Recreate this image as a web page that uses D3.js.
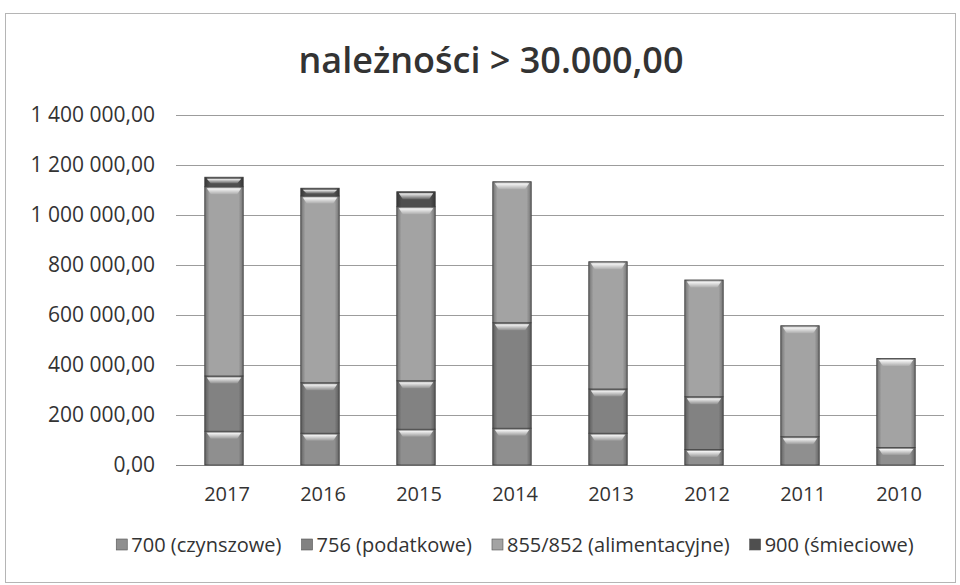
<!DOCTYPE html>
<meta charset="utf-8">
<html>
<head>
<title>należności > 30.000,00</title>
<style>
  body { margin: 0; background: #fff; }
  text { font-family: "Open Sans", "Noto Sans", sans-serif; fill: #333; }
  .title { font-size: 36px; font-weight: 600; }
  .tick-label { font-size: 20px; }
  .ylab { font-size: 21px; }
  .legend-label { font-size: 20px; }
</style>
<script src="https://cdn.jsdelivr.net/npm/d3@7"></script>
</head>
<body>
<div id="chart"></div>
<script>
// data
var years = ["2017", "2016", "2015", "2014", "2013", "2012", "2011", "2010"];
var series = ["700 (czynszowe)", "756 (podatkowe)", "855/852 (alimentacyjne)", "900 (śmieciowe)"];
var s700 = [135000, 127000, 143000, 147000, 127000, 62000, 113000, 70000];
var s756 = [221000, 202000, 194000, 422000, 177000, 211000, 0, 0];
var s855 = [757000, 747000, 696000, 564000, 509000, 467000, 444000, 356000];
var s900 = [38000, 31000, 60000, 0, 0, 0, 0, 0];
var yTicks = [0, 200000, 400000, 600000, 800000, 1000000, 1200000, 1400000];

var colors = ["#8f8f8f", "#828282", "#a3a3a3", "#4f4f4f"];

var W = 960, H = 585;
var svg = d3.select("#chart").append("svg").attr("width", W).attr("height", H);

// outer frame
svg.append("rect")
  .attr("x", 5.5).attr("y", 13.5).attr("width", 950).attr("height", 569)
  .attr("fill", "#fff").attr("stroke", "#b5b5b5").attr("stroke-width", 1);

svg.append("text").attr("class", "title")
  .attr("x", 491).attr("y", 73).attr("text-anchor", "middle")
  .text("należności > 30.000,00");

var x = d3.scaleBand().domain(years).range([176, 944]).paddingInner(0.6).paddingOuter(0.3);
var y = d3.scaleLinear().domain([0, 1400000]).range([465, 115]);

var pl = d3.formatLocale({ decimal: ",", thousands: "\u00a0", grouping: [3], currency: ["", ""] });
var fmt = pl.format(",.2f");

// gridlines
svg.selectAll(".grid").data(yTicks).enter().append("line")
  .attr("x1", 176).attr("x2", 944)
  .attr("y1", function(d) { return Math.round(y(d)) + 0.5; })
  .attr("y2", function(d) { return Math.round(y(d)) + 0.5; })
  .attr("stroke", function(d) { return d === 0 ? "#888" : "#9c9c9c"; })
  .attr("stroke-width", 1);

svg.selectAll(".ylab").data(yTicks).enter().append("text")
  .attr("class", "ylab")
  .attr("x", 155).attr("y", function(d) { return y(d) + 7; })
  .attr("text-anchor", "end")
  .text(function(d) { return fmt(d); });

svg.selectAll(".xlab").data(years).enter().append("text")
  .attr("class", "tick-label")
  .attr("x", function(d) { return x(d) + x.bandwidth() / 2 + 3; })
  .attr("y", 501).attr("text-anchor", "middle")
  .text(function(d) { return d; });

// stacked bars
var table = years.map(function(yr, i) {
  return { year: yr, s0: s700[i], s1: s756[i], s2: s855[i], s3: s900[i] };
});
var stack = d3.stack().keys(["s0", "s1", "s2", "s3"])(table);

var defs = svg.append("defs");
var hl = defs.append("linearGradient").attr("id", "hl").attr("x1", 0).attr("y1", 0).attr("x2", 0).attr("y2", 1);
hl.append("stop").attr("offset", "0%").attr("stop-color", "#fff").attr("stop-opacity", 0.95);
hl.append("stop").attr("offset", "100%").attr("stop-color", "#fff").attr("stop-opacity", 0.1);
var side = defs.append("linearGradient").attr("id", "side").attr("x1", 0).attr("y1", 0).attr("x2", 1).attr("y2", 0);
side.append("stop").attr("offset", "0%").attr("stop-color", "#000").attr("stop-opacity", 0.3);
side.append("stop").attr("offset", "12%").attr("stop-color", "#000").attr("stop-opacity", 0);
side.append("stop").attr("offset", "88%").attr("stop-color", "#000").attr("stop-opacity", 0);
side.append("stop").attr("offset", "100%").attr("stop-color", "#000").attr("stop-opacity", 0.3);

var layers = svg.selectAll(".layer").data(stack).enter().append("g")
  .attr("class", "layer");

layers.each(function(layer, li) {
  var g = d3.select(this);
  var segs = layer.filter(function(d) { return d[1] - d[0] > 0; });
  g.selectAll("rect.seg").data(segs).enter().append("rect")
    .attr("class", "seg")
    .attr("x", function(d) { return x(d.data.year); })
    .attr("y", function(d) { return y(d[1]); })
    .attr("width", x.bandwidth())
    .attr("height", function(d) { return y(d[0]) - y(d[1]); })
    .attr("fill", colors[li])
    .attr("stroke", "#4a4a4a").attr("stroke-width", 0.9);
  g.selectAll("rect.shade").data(segs).enter().append("rect")
    .attr("class", "shade")
    .attr("x", function(d) { return x(d.data.year); })
    .attr("y", function(d) { return y(d[1]); })
    .attr("width", x.bandwidth())
    .attr("height", function(d) { return y(d[0]) - y(d[1]); })
    .attr("fill", "url(#side)");
  // bevel highlight at top of each segment
  g.selectAll("path.bevel").data(segs).enter().append("path")
    .attr("class", "bevel")
    .attr("d", function(d) {
      var x0 = x(d.data.year), w = x.bandwidth(), t = y(d[1]) + 1.5;
      var h = Math.min(6, (y(d[0]) - y(d[1])) / 2);
      return "M" + (x0 + 2) + "," + t + "L" + (x0 + w - 2) + "," + t +
        "L" + (x0 + w - 6) + "," + (t + h) + "L" + (x0 + 6) + "," + (t + h) + "Z";
    })
    .attr("fill", "url(#hl)");
});

// legend, laid out in a row and centred under the plot
var legend = svg.selectAll(".legend").data(series).enter().append("g")
  .attr("class", "legend");
legend.append("rect")
  .attr("x", 0).attr("y", -6).attr("width", 11).attr("height", 11)
  .attr("fill", function(d, i) { return colors[i]; })
  .attr("stroke", "#555").attr("stroke-width", 0.6);
legend.append("text").attr("class", "legend-label")
  .attr("x", 15).attr("y", 7)
  .text(function(d) { return d; });

var widths = [];
legend.each(function() { widths.push(this.getBBox().width); });
var gap = 20;
var total = d3.sum(widths) + gap * (widths.length - 1);
var lx = 515 - total / 2;
legend.attr("transform", function(d, i) {
  var t = "translate(" + lx + ",545)";
  lx += widths[i] + gap;
  return t;
});
</script>
</body>
</html>
